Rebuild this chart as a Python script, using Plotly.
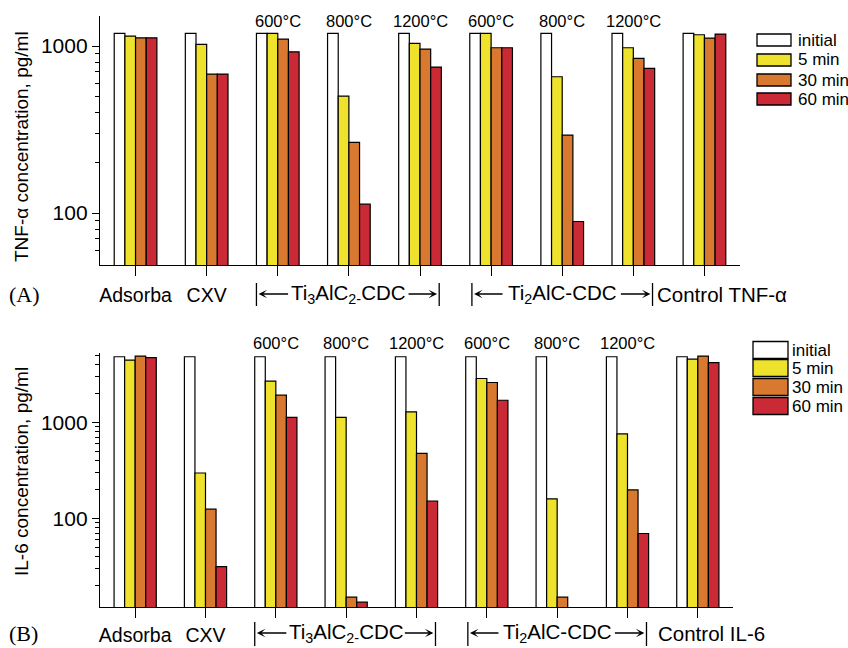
import plotly.graph_objects as go

# ---------------- data ----------------
groups = ["Adsorba", "CXV", "Ti3AlC2-CDC 600°C", "Ti3AlC2-CDC 800°C", "Ti3AlC2-CDC 1200°C",
          "Ti2AlC-CDC 600°C", "Ti2AlC-CDC 800°C", "Ti2AlC-CDC 1200°C", "Control"]
tick_text = ["Adsorba", "CXV", "", "", "", "", "", "", ""]
temps = ["", "", "600°C", "800°C", "1200°C", "600°C", "800°C", "1200°C", ""]
series_names = ["initial", "5 min", "30 min", "60 min"]

tnf_initial = [1190, 1190, 1190, 1190, 1190, 1190, 1190, 1190, 1190]
tnf_5min = [1148, 1023, 1190, 502, 1037, 1190, 655, 977, 1169]
tnf_30min = [1121, 680, 1101, 265, 959, 977, 293, 844, 1116]
tnf_60min = [1121, 680, 924, 113, 748, 977, 89, 735, 1180]

il6_initial = [4800, 4800, 4800, 4800, 4800, 4800, 4800, 4800, 4800]
il6_5min = [4430, 297, 2672, 1127, 1283, 2851, 160, 757, 4530]
il6_30min = [4870, 125, 1911, 15.2, 476, 2592, 15.2, 198, 4870]
il6_60min = [4690, 31.6, 1127, 13.5, 152, 1694, None, 69.8, 4160]

colors = ["#FFFFFF", "#EFE22C", "#D9792F", "#CA2A35"]

W, H = 848, 648
FONT = "Liberation Sans, Arial, sans-serif"


def px(x):
    return x / W


def py(y):
    return 1 - y / H


fig = go.Figure()

tnf = [tnf_initial, tnf_5min, tnf_30min, tnf_60min]
il6 = [il6_initial, il6_5min, il6_30min, il6_60min]

for name, vals, col in zip(series_names, tnf, colors):
    fig.add_trace(go.Bar(x=groups, y=vals, name=name, marker=dict(color=col, line=dict(color="black", width=1.2)),
                         xaxis="x", yaxis="y", showlegend=False))
for name, vals, col in zip(series_names, il6, colors):
    fig.add_trace(go.Bar(x=groups, y=vals, name=name, marker=dict(color=col, line=dict(color="black", width=1.2)),
                         xaxis="x2", yaxis="y2", showlegend=False))

axis_common = dict(showline=True, linecolor="black", linewidth=1.3, showgrid=False, zeroline=False,
                   ticks="outside", tickcolor="black", tickwidth=1.2)

fig.update_layout(
    width=W, height=H, margin=dict(l=0, r=0, t=0, b=0),
    paper_bgcolor="white", plot_bgcolor="white",
    barmode="group", bargap=0.4, bargroupgap=0,
    font=dict(family=FONT, size=19, color="black"),
    xaxis=dict(domain=[px(100), px(740)], anchor="y", tickvals=groups, ticktext=tick_text,
               range=[-0.5, 8.5], autorange=False,
               ticklen=10, ticklabelstandoff=2, tickfont=dict(size=19.5), **axis_common),
    yaxis=dict(domain=[py(265), py(16)], anchor="x", type="log", range=[1.689, 3.18],
               tickvals=[100, 1000], ticktext=["100", "1000"], ticklen=7, tickfont=dict(size=21),
               minor=dict(tickmode="array", tickvals=[60, 70, 80, 90, 200, 300, 400, 500, 600, 700, 800, 900],
                          ticks="outside", ticklen=4, tickcolor="black", tickwidth=1.2),
               **axis_common),
    xaxis2=dict(domain=[px(100), px(733)], anchor="y2", tickvals=groups, ticktext=tick_text,
                range=[-0.5, 8.5], autorange=False,
                ticklen=10, ticklabelstandoff=0, tickfont=dict(size=19.5), **axis_common),
    yaxis2=dict(domain=[py(607), py(353)], anchor="x2", type="log", range=[1.08, 3.72],
                tickvals=[100, 1000], ticktext=["100", "1000"], ticklen=7, tickfont=dict(size=21),
                minor=dict(tickmode="array",
                           tickvals=[20, 30, 40, 50, 60, 70, 80, 90, 200, 300, 400, 500, 600, 700, 800, 900,
                                     2000, 3000, 4000, 5000],
                           ticks="outside", ticklen=4, tickcolor="black", tickwidth=1.2),
                **axis_common),
)

annotations = []
shapes = []


def label(text, x, y, xref="paper", yref="paper", xanchor="center", **kw):
    d = dict(text=text, x=x, y=y, xref=xref, yref=yref, xanchor=xanchor, yanchor="middle", showarrow=False)
    d.update(kw)
    annotations.append(d)


# y-axis titles
label("TNF-α concentration, pg/ml", px(21), py(147), textangle=-90, font=dict(size=19))
label("IL-6 concentration, pg/ml", px(21), py(472), textangle=-90, font=dict(size=19))

# panel letters
serif = "Liberation Serif, Times New Roman, serif"
label("(A)", px(24), py(294), font=dict(family=serif, size=22))
label("(B)", px(23), py(633), font=dict(family=serif, size=22))

# temperature labels
for i, t in enumerate(temps):
    if t:
        label(t, i, py(21), xref="x", font=dict(size=16.5))
        label(t, i, py(343), xref="x2", font=dict(size=16.5))

# bracketed group labels
panels = [
    dict(xref="x", ytxt=294, yb0=283, yb1=306, control="Control TNF-α", cshift=2),
    dict(xref="x2", ytxt=633, yb0=622, yb1=646, control="Control IL-6", cshift=10),
]
for p in panels:
    xr = p["xref"]
    for xb in [1.7, 4.27, 4.73, 7.27]:
        shapes.append(dict(type="line", xref=xr, yref="paper", x0=xb, x1=xb, y0=py(p["yb0"]), y1=py(p["yb1"]),
                           line=dict(color="black", width=1.3)))
    label("Ti<sub>3</sub>AlC<sub>2-</sub>CDC", 3, py(p["ytxt"]), xref=xr, font=dict(size=20.5))
    label("Ti<sub>2</sub>AlC-CDC", 6, py(p["ytxt"]), xref=xr, font=dict(size=20.5))
    label(p["control"], 7.27, py(p["ytxt"]), xref=xr, xanchor="left", xshift=p["cshift"], font=dict(size=20.5))
    # arrows: (head x, pixel offset of tail)
    for hx, off in [(1.73, 31), (4.24, -30), (4.76, 30), (7.24, -31)]:
        annotations.append(dict(text="", x=hx, y=py(p["ytxt"]), xref=xr, yref="paper", showarrow=True,
                                ax=off, ay=0, axref="pixel", ayref="pixel", arrowhead=3, arrowsize=1.1,
                                arrowwidth=1.3, arrowcolor="black", standoff=0, startstandoff=0))

# custom legends
legends = [
    dict(x0=757, x1=791, tx=796, centers=[40, 60, 80, 99], h=12),
    dict(x0=753, x1=788, tx=790, centers=[350, 368, 387, 406], h=17),
]
for lg in legends:
    for name, col, c in zip(series_names, colors, lg["centers"]):
        shapes.append(dict(type="rect", xref="paper", yref="paper", x0=px(lg["x0"]), x1=px(lg["x1"]),
                           y0=py(c + lg["h"] / 2), y1=py(c - lg["h"] / 2), fillcolor=col,
                           line=dict(color="black", width=1.3)))
        label(name, px(lg["tx"]), py(c), xanchor="left", font=dict(size=17))

fig.update_layout(annotations=annotations, shapes=shapes)
fig.write_html("out.html")
